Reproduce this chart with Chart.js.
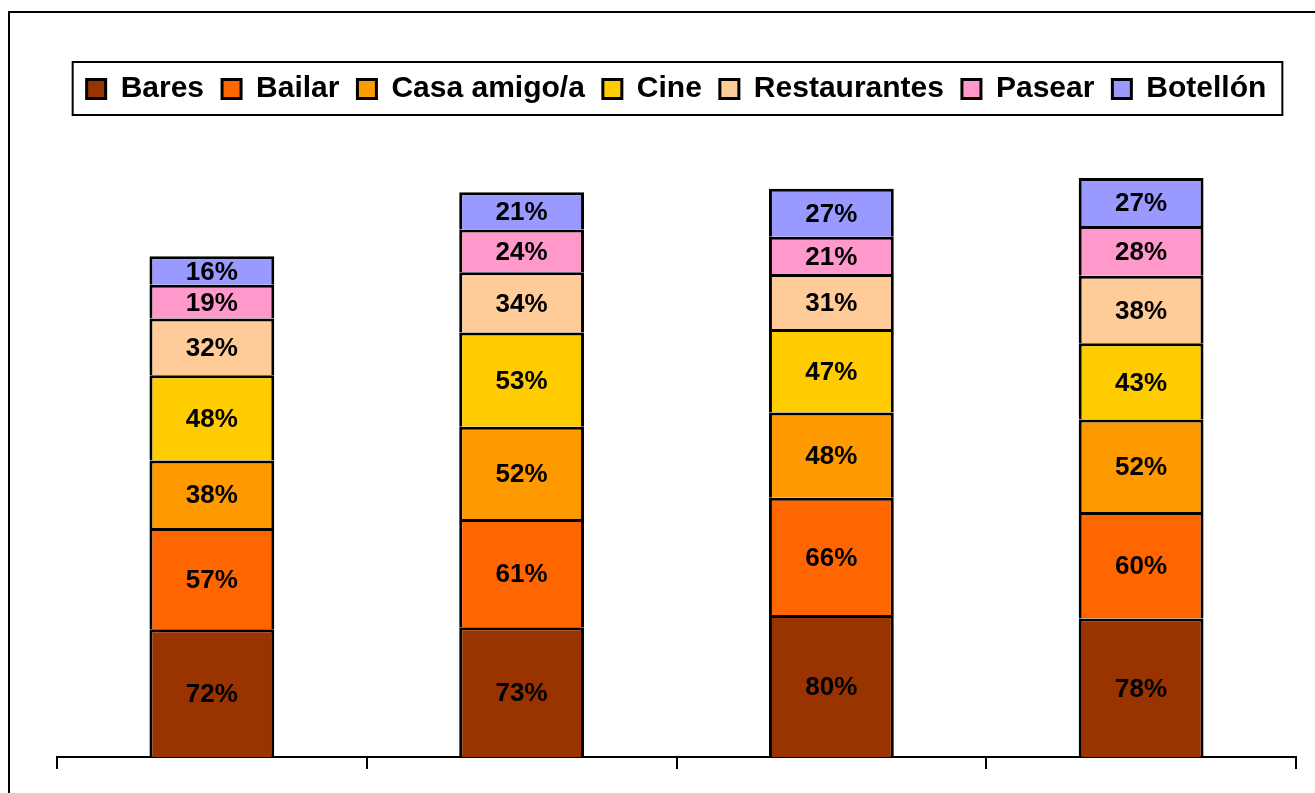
<!DOCTYPE html>
<html>
<head>
<meta charset="utf-8">
<script src="https://cdn.jsdelivr.net/npm/chart.js@4.4.1/dist/chart.umd.min.js"></script>
<style>
  html, body { margin: 0; padding: 0; background: #fff; overflow: hidden; }
  #wrap { position: relative; width: 1315px; height: 793px; }
  #frame { position: absolute; left: 8px; top: 11px; width: 1400px; height: 900px; border: 2px solid #000; pointer-events: none; }
  canvas { position: absolute; left: 0; top: 0; }
</style>
</head>
<body>
<div id="wrap">
  <canvas id="c" width="1315" height="793"></canvas>
  <div id="frame"></div>
</div>
<script>
const categories = ['', '', '', ''];
const seriesNames = ['Bares', 'Bailar', 'Casa amigo/a', 'Cine', 'Restaurantes', 'Pasear', 'Botellón'];
const bares        = [72, 73, 80, 78];
const bailar       = [57, 61, 66, 60];
const casaAmigo    = [38, 52, 48, 52];
const cine         = [48, 53, 47, 43];
const restaurantes = [32, 34, 31, 38];
const pasear       = [19, 24, 21, 28];
const botellon     = [16, 21, 27, 27];
const seriesColors = ['#993300', '#FF6600', '#FF9900', '#FFCC00', '#FFCC99', '#FF99CC', '#9999FF'];

const seriesValues = [bares, bailar, casaAmigo, cine, restaurantes, pasear, botellon];
const FONT = '"Liberation Sans", Arial, Helvetica, sans-serif';

const datasets = seriesNames.map((name, i) => ({
  label: name,
  data: seriesValues[i],
  backgroundColor: seriesColors[i],
  borderColor: '#000',
  borderWidth: 3,
  inflateAmount: 0,
  categoryPercentage: 1.0,
  barPercentage: 0.403
}));

const valueLabels = {
  id: 'valueLabels',
  afterDatasetsDraw(chart) {
    const ctx = chart.ctx;
    ctx.save();
    ctx.font = 'bold 26px ' + FONT;
    ctx.fillStyle = '#000';
    ctx.textAlign = 'center';
    ctx.textBaseline = 'middle';
    chart.data.datasets.forEach((ds, di) => {
      const meta = chart.getDatasetMeta(di);
      meta.data.forEach((el, j) => {
        const v = ds.data[j];
        ctx.fillText(v + '%', el.x, (el.y + el.base) / 2 + 2);
      });
    });
    ctx.restore();
  }
};

const legendFrame = {
  id: 'legendFrame',
  afterDraw(chart) {
    const hb = chart.legend.legendHitBoxes;
    if (!hb || !hb.length) return;
    let l = Infinity, r = -Infinity, t = Infinity, b = -Infinity;
    hb.forEach(h => {
      l = Math.min(l, h.left); r = Math.max(r, h.left + h.width);
      t = Math.min(t, h.top); b = Math.max(b, h.top + h.height);
    });
    const ctx = chart.ctx;
    ctx.save();
    ctx.strokeStyle = '#000';
    ctx.lineWidth = 2;
    ctx.strokeRect(l - 14, t - 12, (r + 16) - (l - 14), (b + 11) - (t - 12));
    ctx.restore();
  }
};

new Chart(document.getElementById('c'), {
  type: 'bar',
  data: { labels: categories, datasets },
  options: {
    responsive: false,
    animation: false,
    events: [],
    layout: { padding: { top: 56, left: 57, right: 19, bottom: 24 } },
    plugins: {
      legend: {
        display: true,
        position: 'top',
        labels: {
          boxWidth: 19,
          boxHeight: 19,
          padding: 18,
          color: '#000',
          font: { family: FONT, size: 30, weight: 'bold' }
        }
      },
      tooltip: { enabled: false },
      title: { display: false }
    },
    scales: {
      x: {
        stacked: true,
        offset: true,
        grid: { display: true, drawOnChartArea: false, drawTicks: true, tickLength: 12, color: '#000', lineWidth: 2, offset: true },
        border: { display: true, color: '#000', width: 2 },
        ticks: { display: false }
      },
      y: {
        stacked: true,
        display: false,
        min: 0,
        max: 362.1
      }
    }
  },
  plugins: [valueLabels, legendFrame]
});
</script>
</body>
</html>
